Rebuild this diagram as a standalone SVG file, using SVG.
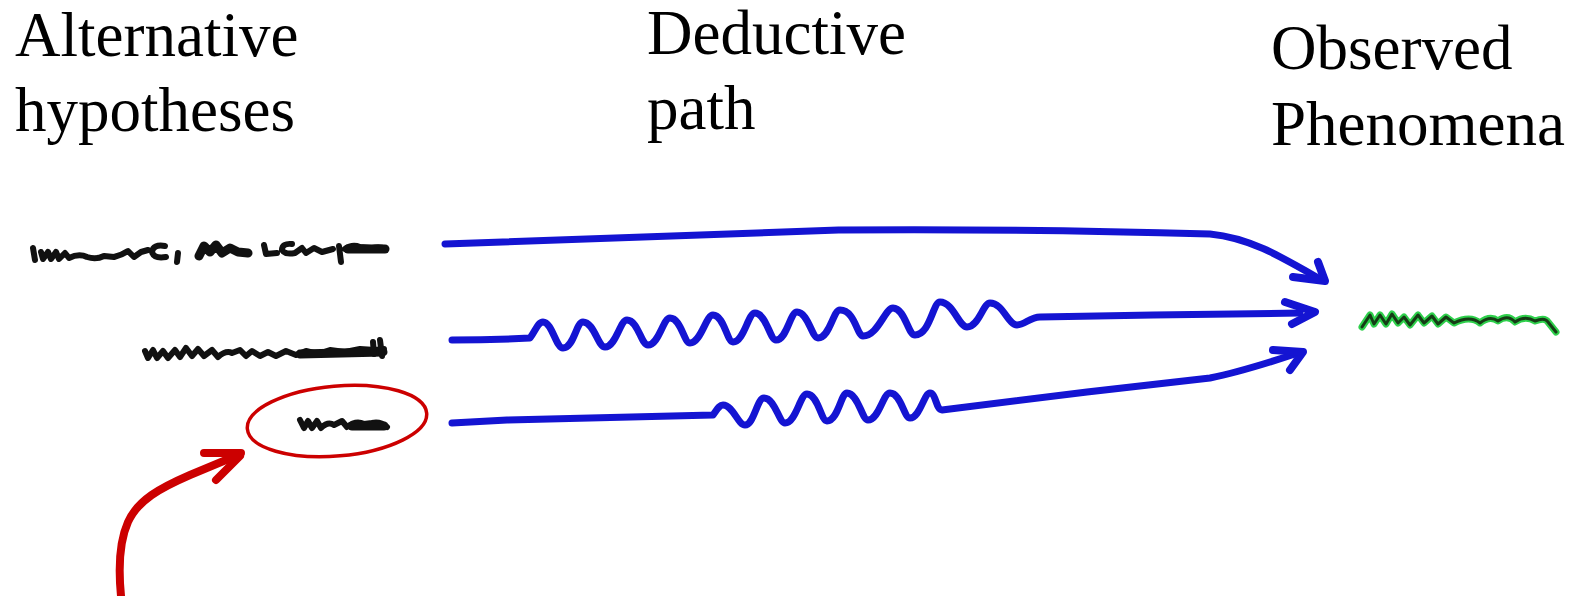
<svg xmlns="http://www.w3.org/2000/svg" width="1582" height="596" viewBox="0 0 1582 596">
<style>
.lbl{font-family:"Liberation Serif","Times New Roman",serif;font-size:63px;fill:#000}
.ink{fill:none;stroke:#111;stroke-width:6;stroke-linecap:round;stroke-linejoin:round}
.thick{fill:none;stroke:#111;stroke-width:9;stroke-linecap:round;stroke-linejoin:round}
.blue{fill:none;stroke:#1414d2;stroke-width:7;stroke-linecap:round;stroke-linejoin:round}
.head{fill:none;stroke:#1414d2;stroke-width:8;stroke-linecap:round;stroke-linejoin:round}
.red{fill:none;stroke:#cc0000;stroke-linecap:round;stroke-linejoin:round}
.gout{fill:none;stroke:#2fd04c;stroke-width:7;stroke-linecap:round;stroke-linejoin:round}
.gin{fill:none;stroke:#163c16;stroke-width:3;stroke-linecap:round;stroke-linejoin:round}
</style>
<rect x="0" y="0" width="1582" height="596" fill="#ffffff"/>

<g id="label-hypotheses">
<text class="lbl" x="15" y="56">Alternative</text>
<text class="lbl" x="15" y="131">hypotheses</text>
</g>
<g id="label-deductive">
<text class="lbl" x="647" y="54">Deductive</text>
<text class="lbl" x="647" y="129">path</text>
</g>
<g id="label-observed">
<text class="lbl" x="1271" y="69">Observed</text>
<text class="lbl" x="1271" y="145">Phenomena</text>
</g>

<g id="hypothesis-1">
<path class="ink" d="M33,248 L35,260"/>
<path class="ink" d="M41,252 L43,259 L48,252 L51,259 L56,252 L59,259 L65,253 L69,258 Q79,253 87,257 Q96,260 104,256 L114,257 Q122,255 128,251 L134,257 L141,252 L148,250"/>
<path class="ink" d="M165,246 Q153,244 152,252 Q154,259 166,257"/>
<path class="ink" d="M178,253 L177,262"/>
<path class="thick" d="M199,256 L204,246 L210,252 L216,245 L222,253 L230,248 L238,252 L248,253"/>
<path class="ink" d="M264,245 L266,254 L277,253 M292,244 Q282,243 282,250 Q285,255 295,253 L302,248 L306,253 L314,248 L322,252 L333,249 M339,246 L341,262 M345,249 Q352,244 360,247 L372,248 Q380,246 386,249"/>
<path class="thick" d="M348,249 L385,249"/>
</g>

<g id="hypothesis-2">
<path class="ink" d="M145,351 L148,358 L153,350 L157,358 L163,351 L168,358 L175,350 L180,357 L186,348 L192,356 L198,349 L204,356 L212,350 L218,357 Q226,350 232,353 L240,350 L246,356 L252,351 L260,356 L268,352 L276,356 L286,351 L296,355 L306,351 L318,354 L330,350 L345,352 L360,349 L375,350 L384,349"/>
<path class="thick" d="M300,354 L383,352"/>
<path class="ink" d="M380,340 L382,356 M373,342 L374,354"/>
</g>

<g id="hypothesis-3">
<ellipse cx="337" cy="421" rx="90" ry="35" transform="rotate(-5 337 421)" class="red" stroke-width="3.5"/>
<path class="ink" d="M300,420 L304,428 L308,421 L312,428 L317,421 L321,428 Q328,421 334,425 L342,421 L347,427 Q356,420 364,424 L372,423 Q380,421 387,427"/>
<path class="thick" d="M352,426 L384,426"/>
</g>

<g id="observed-phenomena">
<path class="gout" d="M1362,327 L1370,315 L1374,324 L1380,315 L1386,324 L1392,314 L1398,323 L1404,317 L1410,325 L1418,315 L1424,323 L1432,316 L1438,324 L1446,317 L1454,323 Q1470,315 1480,323 Q1490,315 1498,321 Q1508,314 1515,322 Q1525,315 1535,321 Q1545,317 1548,322 L1556,332"/>
<path class="gin" d="M1362,327 L1370,315 L1374,324 L1380,315 L1386,324 L1392,314 L1398,323 L1404,317 L1410,325 L1418,315 L1424,323 L1432,316 L1438,324 L1446,317 L1454,323 Q1470,315 1480,323 Q1490,315 1498,321 Q1508,314 1515,322 Q1525,315 1535,321 Q1545,317 1548,322 L1556,332"/>
</g>

<g id="connectors">
<path class="blue" d="M445,244 C560,241 700,234 840,230 C950,229 1100,231 1210,234 C1250,238 1280,256 1320,279"/>
<path class="head" d="M1293,277 L1325,281 L1318,262"/>

<path class="blue" d="M452,340 C480,340 510,339 530,338 C536,330 538,322 543,322 C552,322 556,348 563,348 C574,348 576,322 583,322 C594,322 598,347 605,347 C616,347 620,320 627,320 C638,320 641,345 648,345 C659,345 663,318 670,318 C681,318 684,343 690,343 C701,343 706,315 713,315 C724,315 727,342 733,342 C744,342 748,313 755,313 C766,313 770,340 776,340 C787,340 790,312 797,312 C808,312 812,338 818,338 C830,338 833,310 840,310 C855,310 857,336 863,336 C878,336 885,308 893,308 C905,308 908,335 915,335 C930,335 933,302 940,302 C953,302 959,327 967,327 C979,327 983,303 990,303 C1003,303 1008,325 1017,325 C1025,325 1030,317 1040,317 L1153,315 L1300,313"/>
<path class="head" d="M1285,302 L1315,312 L1292,324"/>

<path class="blue" d="M452,423 L507,420 L713,415 C717,410 719,405 723,405 C733,405 738,425 745,425 C754,425 757,398 764,398 C775,398 779,423 785,423 C796,423 800,394 807,394 C818,394 821,421 827,421 C838,421 841,393 847,393 C858,393 862,420 868,420 C879,420 883,393 890,393 C901,393 904,418 910,418 C920,418 924,393 930,393 C936,393 936,410 942,410 L1087,392 L1210,378 C1240,372 1265,364 1298,353"/>
<path class="head" d="M1273,350 L1303,352 L1290,370"/>
</g>

<g id="highlight-arrow">
<path class="red" stroke-width="8" d="M121,596 C118,565 120,540 128,522 C138,500 160,488 190,475 L238,455"/>
<path class="red" stroke-width="8" d="M204,453 L241,453 M216,480 L240,456"/>
</g>
</svg>
